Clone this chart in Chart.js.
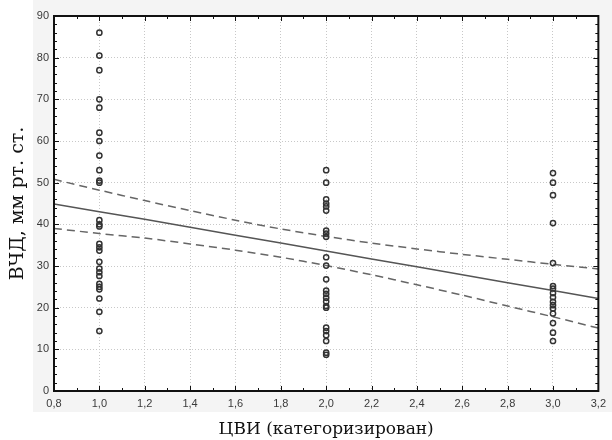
<!DOCTYPE html>
<html>
<head>
  <title>ВЧД vs ЦВИ</title>
  <script src="https://cdn.jsdelivr.net/npm/chart.js"></script>
  <style>
    body { margin: 0; background: #fff; }
    #wrap { width: 612px; height: 440px; }
  </style>
</head>
<body>
  <div id="wrap"><canvas id="scatter" width="612" height="440"></canvas></div>

  <script>
    // categories on x and the observed values in each column
    const categories = [1, 2, 3];
    const group1 = [86, 80.5, 77, 70, 68, 62, 60, 56.5, 53, 50.5, 50, 41, 40, 39.5, 35.3, 34.5, 33.7, 31, 29.4, 28.5, 27.6, 25.7, 25, 24.4, 22.2, 19, 14.4];
    const group2 = [53, 50, 46, 45, 44.3, 43.3, 38.5, 37.8, 37, 32.1, 30.1, 26.8, 24.1, 23.3, 22.4, 21.5, 20.4, 20, 15.2, 14.4, 13.4, 12, 9.2, 8.7];
    const group3 = [52.3, 50, 47, 40.3, 30.7, 25.2, 24.6, 23.5, 22.5, 21.4, 20.6, 19.8, 18.6, 16.3, 14, 12];

    // regression line and its confidence band
    const fitX = [0.8, 1.0, 1.2, 1.4, 1.6, 1.8, 2.0, 2.2, 2.4, 2.6, 2.8, 3.0, 3.2];
    const fitY = [44.9, 43.0, 41.2, 39.3, 37.4, 35.5, 33.6, 31.7, 29.8, 27.9, 26.0, 24.1, 22.2];
    const upperBand = [50.8, 48.2, 45.7, 43.3, 41.0, 38.9, 37.1, 35.5, 34.1, 32.8, 31.6, 30.4, 29.3];
    const lowerBand = [39.0, 37.8, 36.7, 35.3, 33.8, 32.1, 30.1, 27.9, 25.5, 23.0, 20.4, 17.8, 15.1];

    const xTitle = "ЦВИ (категоризирован)";
    const yTitle = "ВЧД, мм рт. ст.";

    const groups = [group1, group2, group3];
    const points = [];
    groups.forEach((g, i) => g.forEach(v => points.push({ x: categories[i], y: v })));
    const toXY = (xs, ys) => xs.map((x, i) => ({ x: x, y: ys[i] }));

    // frame, inward ticks and the light panel behind the axes
    const framePlugin = {
      id: "frame",
      beforeDraw(chart) {
        const c = chart.ctx, a = chart.chartArea;
        c.save();
        c.fillStyle = "#f4f4f4";
        c.fillRect(33, 0, chart.width - 33, 412);
        c.fillStyle = "#ffffff";
        c.fillRect(a.left, a.top, a.right - a.left, a.bottom - a.top);
        c.restore();
      },
      afterDraw(chart) {
        const c = chart.ctx, a = chart.chartArea;
        const xs = chart.scales.x, ys = chart.scales.y;
        c.save();
        c.strokeStyle = "#111";
        c.lineWidth = 1;
        for (let i = 0; i <= 45; i++) {
          const py = Math.round(ys.getPixelForValue(i * 2)) + 0.5;
          const len = i % 5 === 0 ? 5 : 3;
          c.beginPath();
          c.moveTo(a.left, py); c.lineTo(a.left + len, py);
          c.moveTo(a.right, py); c.lineTo(a.right - len, py);
          c.stroke();
        }
        for (let i = 8; i <= 32; i++) {
          const px = Math.round(xs.getPixelForValue(i / 10)) + 0.5;
          const len = i % 2 === 0 ? 5 : 3;
          c.beginPath();
          c.moveTo(px, a.bottom); c.lineTo(px, a.bottom - len);
          c.moveTo(px, a.top); c.lineTo(px, a.top + len);
          c.stroke();
        }
        c.lineWidth = 2;
        c.strokeRect(a.left, a.top, a.right - a.left, a.bottom - a.top);
        c.restore();
      }
    };

    new Chart(document.getElementById("scatter"), {
      type: "scatter",
      data: {
        datasets: [
          {
            label: "data",
            data: points,
            showLine: false,
            pointRadius: 2.6,
            pointBorderWidth: 1.5,
            pointBackgroundColor: "rgba(255,255,255,0)",
            pointBorderColor: "#333",
          },
          {
            label: "fit",
            data: toXY(fitX, fitY),
            showLine: true,
            pointRadius: 0,
            borderColor: "#555",
            borderWidth: 1.5,
          },
          {
            label: "upper",
            data: toXY(fitX, upperBand),
            showLine: true,
            pointRadius: 0,
            tension: 0.3,
            borderColor: "#666",
            borderWidth: 1.5,
            borderDash: [8, 5],
          },
          {
            label: "lower",
            data: toXY(fitX, lowerBand),
            showLine: true,
            pointRadius: 0,
            tension: 0.3,
            borderColor: "#666",
            borderWidth: 1.5,
            borderDash: [8, 5],
          },
        ],
      },
      options: {
        responsive: false,
        animation: false,
        layout: { padding: { top: 16, right: 11, left: 7, bottom: 0 } },
        plugins: { legend: { display: false }, tooltip: { enabled: false } },
        scales: {
          x: {
            type: "linear",
            min: 0.8,
            max: 3.2,
            afterFit: s => { s.height = 49; },
            afterBuildTicks: s => {
              s.ticks = fitX.map(v => ({ value: v }));
            },
            ticks: {
              padding: 6,
              color: "#3a3a3a",
              font: { family: "Liberation Sans", size: 11 },
              maxRotation: 0,
              callback: v => Number(v).toFixed(1).replace(".", ","),
            },
            grid: { color: "#c8c8c8", drawTicks: false },
            border: { display: false, dash: [1, 2] },
            title: {
              display: true,
              text: xTitle,
              color: "#111",
              font: { family: "DejaVu Serif", size: 17 },
              padding: { top: 3, bottom: 0 },
            },
          },
          y: {
            type: "linear",
            min: 0,
            max: 90,
            afterFit: s => { s.width = 47; },
            ticks: {
              stepSize: 10,
              padding: 5,
              color: "#3a3a3a",
              font: { family: "Liberation Sans", size: 11 },
            },
            grid: { color: "#c8c8c8", drawTicks: false },
            border: { display: false, dash: [1, 2] },
            title: {
              display: true,
              text: yTitle,
              color: "#111",
              font: { family: "DejaVu Serif", size: 19 },
              padding: { top: 0, bottom: 4 },
            },
          },
        },
      },
      plugins: [framePlugin],
    });
  </script>
</body>
</html>
